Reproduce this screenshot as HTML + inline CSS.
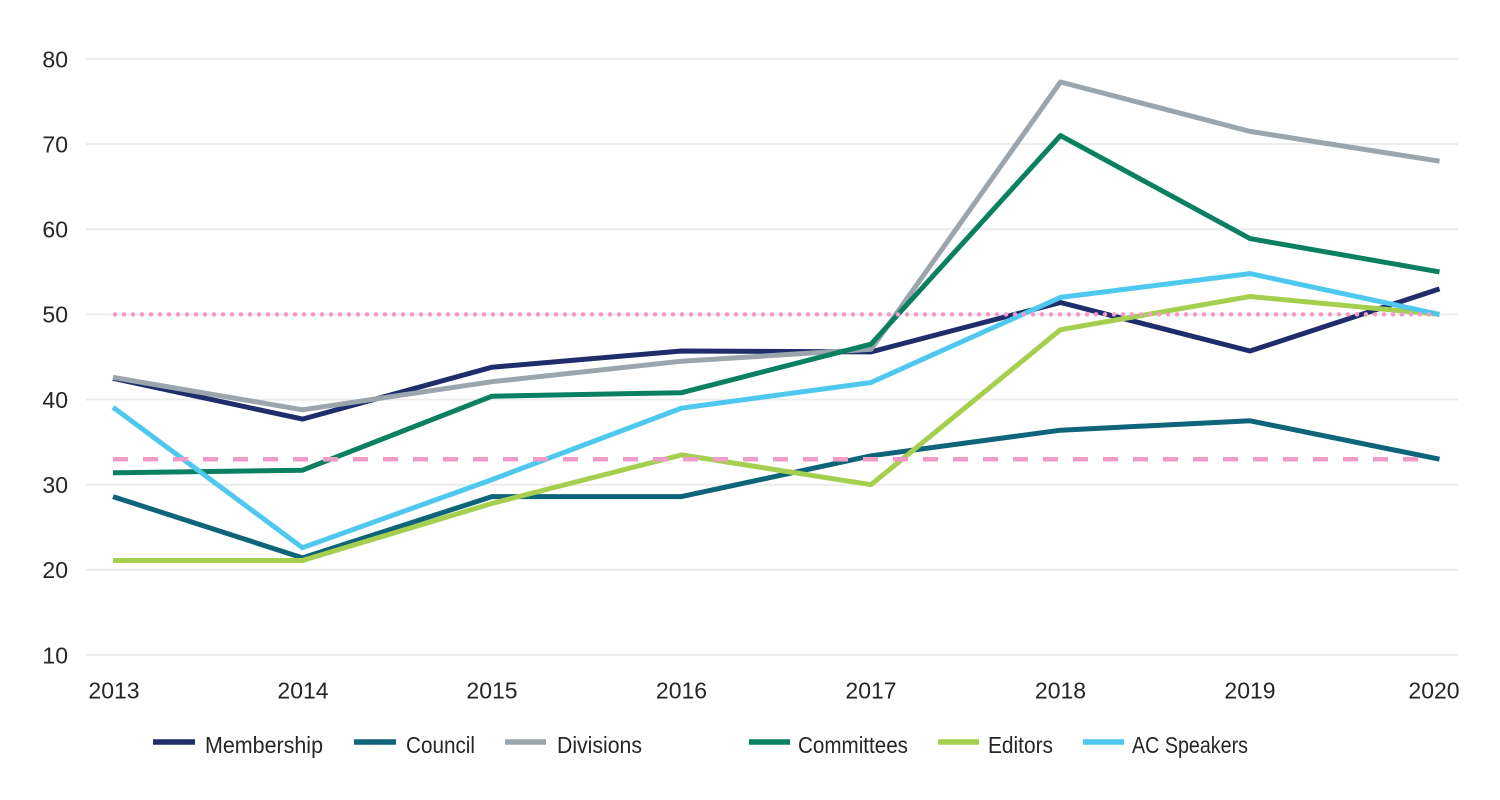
<!DOCTYPE html>
<html><head><meta charset="utf-8"><style>
html,body{margin:0;padding:0;background:#fff;}
svg{display:block;}
text{font-family:"Liberation Sans",sans-serif;fill:#262626;}
</style></head><body>
<svg width="1500" height="800" viewBox="0 0 1500 800" xmlns="http://www.w3.org/2000/svg">
<g stroke="#ececec" stroke-width="2">
<line x1="86" y1="59" x2="1458" y2="59"/>
<line x1="86" y1="144.1" x2="1458" y2="144.1"/>
<line x1="86" y1="229.3" x2="1458" y2="229.3"/>
<line x1="86" y1="314.4" x2="1458" y2="314.4"/>
<line x1="86" y1="399.6" x2="1458" y2="399.6"/>
<line x1="86" y1="484.7" x2="1458" y2="484.7"/>
<line x1="86" y1="569.8" x2="1458" y2="569.8"/>
<line x1="86" y1="655" x2="1458" y2="655"/>
</g>
<g font-size="23" text-anchor="end">
<text x="68" y="67.3">80</text>
<text x="68" y="152.4">70</text>
<text x="68" y="237.6">60</text>
<text x="68" y="322.7">50</text>
<text x="68" y="407.9">40</text>
<text x="68" y="493">30</text>
<text x="68" y="578.1">20</text>
<text x="68" y="663.3">10</text>
</g>
<g font-size="23" text-anchor="middle">
<text x="114" y="698.5">2013</text>
<text x="303" y="698.5">2014</text>
<text x="492" y="698.5">2015</text>
<text x="681.5" y="698.5">2016</text>
<text x="871" y="698.5">2017</text>
<text x="1060.5" y="698.5">2018</text>
<text x="1250" y="698.5">2019</text>
<text x="1434" y="698.5">2020</text>
</g>
<g fill="none" stroke-width="5" stroke-linejoin="round" stroke-linecap="butt">
<polyline stroke="#1f2d6b" points="113,378.3 302.5,419.1 492,367.2 681.5,351 871,351.9 1060.5,302.5 1250,351 1439.5,288.9"/>
<polyline stroke="#0e6579" points="113,496.6 302.5,557.9 492,496.6 681.5,496.6 871,455.8 1060.5,430.2 1250,420.8 1439.5,459.2"/>
<polyline stroke="#9aa5ad" points="113,377.4 302.5,409.8 492,381.7 681.5,361.2 871,349.3 1060.5,82 1250,131.4 1439.5,161.2"/>
<polyline stroke="#0a8060" points="113,472.8 302.5,470.2 492,396.2 681.5,392.7 871,344.2 1060.5,135.6 1250,238.6 1439.5,271.9"/>
<polyline stroke="#a6cf4f" points="113,560.5 302.5,560.5 492,503.4 681.5,454.9 871,484.7 1060.5,329.7 1250,296.5 1439.5,314.4"/>
<polyline stroke="#4fc8f0" points="113,407.2 302.5,547.7 492,479.6 681.5,408.1 871,382.5 1060.5,297.4 1250,273.6 1439.5,314.4"/>
</g>
<line x1="115" y1="314.4" x2="1436" y2="314.4" stroke="#f09cc8" stroke-width="4.5" stroke-dasharray="0 9" stroke-linecap="round"/>
<line x1="113" y1="459.2" x2="1427" y2="459.2" stroke="#f09cc8" stroke-width="4.5" stroke-dasharray="15 15"/>
<g stroke-width="5.5">
<line x1="153" y1="742" x2="195" y2="742" stroke="#1f2d6b"/>
<line x1="354" y1="742" x2="396" y2="742" stroke="#0e6579"/>
<line x1="505" y1="742" x2="546" y2="742" stroke="#9aa5ad"/>
<line x1="749" y1="742" x2="790" y2="742" stroke="#0a8060"/>
<line x1="938" y1="742" x2="979" y2="742" stroke="#a6cf4f"/>
<line x1="1083" y1="742" x2="1124" y2="742" stroke="#4fc8f0"/>
</g>
<g font-size="23">
<text x="205" y="753" textLength="118" lengthAdjust="spacingAndGlyphs">Membership</text>
<text x="406" y="753" textLength="69" lengthAdjust="spacingAndGlyphs">Council</text>
<text x="557" y="753" textLength="85" lengthAdjust="spacingAndGlyphs">Divisions</text>
<text x="798" y="753" textLength="110" lengthAdjust="spacingAndGlyphs">Committees</text>
<text x="988" y="753" textLength="65" lengthAdjust="spacingAndGlyphs">Editors</text>
<text x="1132" y="753" textLength="116" lengthAdjust="spacingAndGlyphs">AC Speakers</text>
</g>
</svg>
</body></html>
